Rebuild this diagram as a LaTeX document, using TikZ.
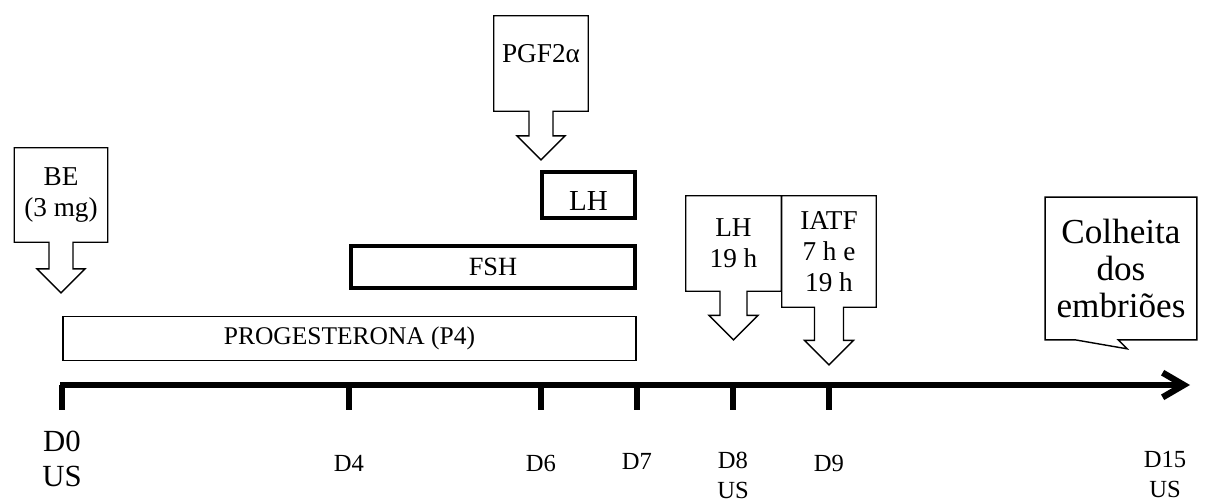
\documentclass[tikz,border=0pt]{standalone}
\usepackage{fontspec}
\setmainfont{Liberation Serif}
\usetikzlibrary{shapes.arrows, arrows.meta}

\begin{document}
\begin{tikzpicture}[
    x=0.02cm, y=-0.02cm,
    % estilos
    dose/.style={arrow box, draw=black, fill=white, line width=0.8pt, align=center, inner sep=0pt, font=\fontsize{15.5}{17.5}\selectfont, arrow box shaft width=0.48cm, arrow box head extend=0.24cm},
    thinbar/.style={rectangle, draw=black, line width=0.8pt, inner sep=0pt, font=\fontsize{14.5}{16}\selectfont},
    thickbar/.style={rectangle, draw=black, line width=2.3pt, inner sep=0pt, font=\fontsize{15}{16}\selectfont},
    axis/.style={line width=3.6pt, -{Straight Barb[length=12pt, width=14pt]}},
    tickmark/.style={line width=3.1pt},
    day/.style={anchor=north, inner sep=0pt, align=center, font=\fontsize{14}{17}\selectfont}
]
    \useasboundingbox (0,0) rectangle (1205,504);

    % --- linha do tempo ---
    \coordinate (start) at (60,385);
    \coordinate (end) at (1190,385);
    \draw [axis] (start) -- (end);
    \foreach \x/\d in {62/0, 349/4, 541/6, 637/7, 733/8, 829/9} {
        \coordinate (t\d) at (\x,385);
        \draw [tickmark] (t\d) -- ++(0,25);
    }

    % --- dias ---
    \node (d0) [day, font=\fontsize{17.5}{20}\selectfont] at (62,431) {D0\\US};
    \node (d4) [day] at (349,455) {D4};
    \node (d6) [day] at (541,455) {D6};
    \node (d7) [day] at (637,453) {D7};
    \node (d8) [day] at (733,452) {D8\\US};
    \node (d9) [day] at (829,455) {D9};
    \node (d15) [day] at (1165,451) {D15\\US};

    % --- tratamentos ---
    \node (p4) [thinbar, minimum width=11.47cm, minimum height=0.87cm] at (349.5,338.5) {PROGESTERONA (P4)};
    \node (fsh) [thickbar, minimum width=5.68cm, minimum height=0.84cm] at (493,267) {FSH};
    \node (lh) [thickbar, minimum width=1.86cm, minimum height=0.92cm, font=\fontsize{16.5}{20}\selectfont] at (588.5,195) {\raisebox{-3.5pt}[\height][\depth]{LH}};

    % --- aplicacoes ---
    \node (be) [dose, minimum width=1.87cm, minimum height=1.89cm, arrow box arrows={south:1.0cm}] at (61,195) {BE\\(3 mg)};
    \node (pgf) [dose, minimum width=1.89cm, minimum height=1.91cm, arrow box arrows={south:0.96cm}] at (541,63.5) {\raisebox{5.5pt}[\height][\depth]{PGF2α}};
    \node (lhdose) [dose, minimum width=1.91cm, minimum height=1.91cm, arrow box arrows={south:0.96cm}, arrow box shaft width=0.54cm, arrow box head extend=0.22cm] at (733.5,243.5) {LH\\19 h};
    \node (iatf) [dose, minimum width=1.89cm, minimum height=2.23cm, arrow box arrows={south:1.14cm}, arrow box shaft width=0.58cm, arrow box head extend=0.2cm] at (829,251.5) {IATF\\7 h e\\19 h};

    % --- colheita ---
    \node (colheita) [rectangle, minimum width=3.02cm, minimum height=2.84cm, align=center, inner sep=0pt, font=\fontsize{20}{21}\selectfont] at (1121,268.5) {Colheita\\dos\\embriões};
    \draw [line width=0.8pt] (colheita.south west) -- ++(30,0) -- ++(52,9) -- ++(-9,-9) -- (colheita.south east) -- (colheita.north east) -- (colheita.north west) -- cycle;

\end{tikzpicture}
\end{document}
